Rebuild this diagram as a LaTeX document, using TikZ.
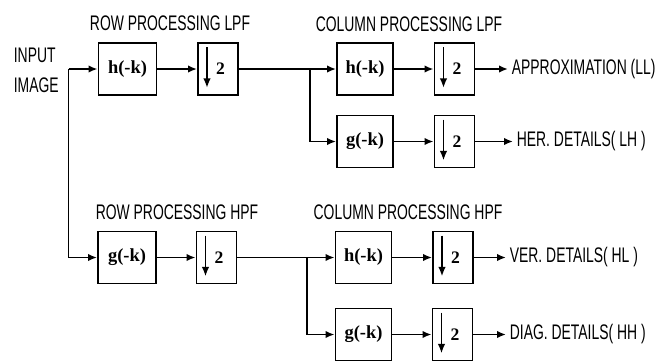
\documentclass[tikz,border=0pt]{standalone}
\usepackage{fontspec}
\setmainfont{Liberation Serif}
\newfontfamily\capfont{Liberation Sans}[FakeStretch=0.66]
\usepackage{tikz}
\usetikzlibrary{arrows.meta}
\tikzset{
  filt/.style={rectangle, draw=black, line width=1.1pt, minimum width=1.16cm, minimum height=1.04cm, inner sep=1pt, font=\fontsize{10.5}{12}\selectfont\bfseries},
  dsmp/.style={filt, minimum width=0.8cm, font=\fontsize{10}{12}\selectfont\bfseries},
  lbl/.style={font=\capfont\fontsize{12}{17}\selectfont, inner sep=2pt},
  sig/.style={line width=1.1pt, -{Latex[length=1.8mm, width=1.5mm]}},
}
\begin{document}
\begin{tikzpicture}
\useasboundingbox (0,0) rectangle (13.3,-7.24);
% input
\node[lbl, anchor=west, align=left] (in) at (0.2,-1.4) {INPUT\\IMAGE};
\coordinate (s0) at (1.37,-1.38);
% row processing
\node[lbl] (rl) at (3.4,-0.46) {ROW PROCESSING LPF};
\node[filt] (h1) at (2.55,-1.38) {h(-k)};
\node[dsmp] (d1) at (4.36,-1.38) {\hspace{0.1cm}2};
\node[lbl] (rh) at (3.54,-4.24) {ROW PROCESSING HPF};
\node[filt] (g1) at (2.54,-5.15) {g(-k)};
\node[dsmp] (d4) at (4.33,-5.15) {\hspace{0.1cm}2};
\coordinate (s1) at (6.2,-1.38);
\coordinate (s2) at (6.14,-5.15);
% column processing
\node[lbl] (cl) at (8.18,-0.48) {COLUMN PROCESSING LPF};
\node[filt, minimum width=1.12cm] (h2) at (7.3,-1.38) {h(-k)};
\node[dsmp] (d2) at (9.09,-1.38) {\hspace{0.1cm}2};
\node[filt, minimum width=1.12cm] (g2) at (7.3,-2.83) {g(-k)};
\node[dsmp] (d3) at (9.09,-2.83) {\hspace{0.1cm}2};
\node[lbl] (ch) at (8.16,-4.24) {COLUMN PROCESSING HPF};
\node[filt, minimum width=1.12cm] (h3) at (7.27,-5.15) {h(-k)};
\node[dsmp] (d5) at (9.06,-5.15) {\hspace{0.1cm}2};
\node[filt, minimum width=1.12cm] (g3) at (7.27,-6.69) {g(-k)};
\node[dsmp] (d6) at (9.05,-6.69) {\hspace{0.1cm}2};
% outputs
\node[lbl, anchor=west] (ll) at (10.16,-1.38) {APPROXIMATION (LL)};
\node[lbl, anchor=west] (lh) at (10.26,-2.83) {HER. DETAILS( LH )};
\node[lbl, anchor=west] (hl) at (10.12,-5.15) {VER. DETAILS( HL )};
\node[lbl, anchor=west] (hh) at (10.12,-6.69) {DIAG. DETAILS( HH )};
% down arrows in the decimators
\foreach \d in {d1,d2,d3,d4,d5,d6}
  \draw[line width=1.1pt, -{Latex[length=1.9mm, width=1.5mm]}] ([xshift=-0.22cm, yshift=-0.1cm]\d.north) -- ([xshift=-0.22cm, yshift=0.16cm]\d.south);
% connectors
\draw[sig] (s0) -- (h1.west);
\draw[sig] (s0) |- (g1.west);
\draw[sig] (h1) -- (d1);
\draw[sig] (g1) -- (d4);
\draw[sig] (d1.east) -- (h2.west);
\draw[sig] (s1) |- (g2.west);
\draw[sig] (d4.east) -- (h3.west);
\draw[sig] (s2) |- (g3.west);
\draw[sig] (h2) -- (d2); \draw[sig] (g2) -- (d3);
\draw[sig] (h3) -- (d5); \draw[sig] (g3) -- (d6);
\draw[sig] (d2) -- (ll); \draw[sig] (d3) -- (lh);
\draw[sig] (d5) -- (hl); \draw[sig] (d6) -- (hh);
\end{tikzpicture}
\end{document}
